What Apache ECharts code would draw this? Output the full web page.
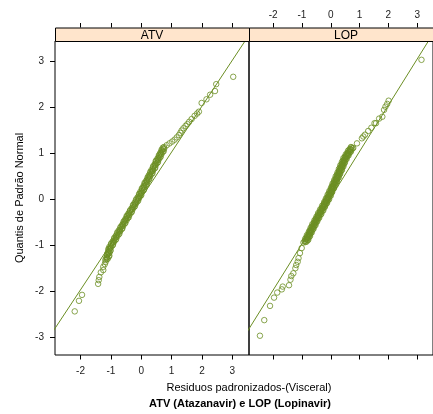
<!DOCTYPE html>
<html>
<head>
<meta charset="utf-8">
<script src="https://cdn.jsdelivr.net/npm/echarts@6/dist/echarts.min.js"></script>
<style>
html,body{margin:0;padding:0;background:#fff;}
#chart{width:433px;height:414px;}
</style>
</head>
<body>
<div id="chart"></div>
<script>
// Panel names
const panels = ['ATV', 'LOP'];
// Tick values
const xTicks = [-2, -1, 0, 1, 2, 3];
const yTicks = [-3, -2, -1, 0, 1, 2, 3];

// ATV: standardized residuals (x) vs normal quantiles (y)
const atvX = [-2.19,-2.05,-1.95,-1.42,-1.40,-1.38,-1.33,-1.25,-1.25,-1.20,-1.17,
-1.18,-1.10,-1.13,-1.05,-1.13,-1.05,-1.08,-1.01,-1.08,-1.00,-1.01,-0.93,-0.99,-0.90,-0.91,-0.83,-0.89,-0.79,-0.81,-0.72,-0.79,-0.69,-0.70,-0.62,-0.68,-0.59,-0.60,-0.52,-0.58,-0.48,-0.50,-0.41,-0.48,-0.38,-0.40,-0.31,-0.37,-0.28,-0.29,-0.21,-0.27,-0.17,-0.19,-0.10,-0.17,-0.07,-0.09,0.00,-0.07,0.02,0.01,0.09,0.02,0.11,0.10,0.18,0.11,0.21,0.19,0.27,0.21,0.30,0.28,0.37,0.30,0.39,0.38,0.46,0.39,0.48,0.47,0.55,0.48,0.58,0.56,0.64,0.58,0.67,0.65,0.74,0.67,0.76,0.75,
-1.13,-1.15,-1.07,-1.12,-1.08,-1.10,-1.02,-1.07,-1.03,-1.05,-0.95,-0.99,-0.93,-0.94,-0.85,-0.88,-0.83,-0.84,-0.75,-0.78,-0.72,-0.74,-0.64,-0.68,-0.62,-0.63,-0.54,-0.57,-0.52,-0.53,-0.44,-0.47,-0.41,-0.43,-0.33,-0.37,-0.31,-0.32,-0.23,-0.26,-0.21,-0.22,-0.13,-0.16,-0.10,-0.12,-0.03,-0.06,-0.01,-0.03,0.07,0.03,0.08,0.07,0.16,0.12,0.18,0.16,0.25,0.22,0.27,0.25,0.34,0.31,0.36,0.34,0.44,0.40,0.45,0.44,0.53,0.49,0.55,0.53,0.62,0.59,0.64,0.62,0.71,0.68,0.73,0.71,
0.84,0.93,1.02,1.10,1.17,1.24,1.29,1.33,1.39,1.46,1.52,1.58,1.66,1.76,1.84,1.90,1.99,2.15,2.27,2.43,2.47,3.03];
const atvY = [-2.44,-2.21,-2.08,-1.84,-1.76,-1.69,-1.59,-1.54,-1.47,-1.41,-1.36,
-1.32,-1.29,-1.26,-1.23,-1.20,-1.17,-1.14,-1.11,-1.08,-1.05,-1.02,-0.99,-0.96,-0.93,-0.90,-0.87,-0.84,-0.81,-0.78,-0.75,-0.72,-0.69,-0.66,-0.63,-0.60,-0.57,-0.54,-0.51,-0.48,-0.45,-0.42,-0.39,-0.36,-0.33,-0.30,-0.27,-0.24,-0.21,-0.18,-0.15,-0.12,-0.09,-0.06,-0.03,0.00,0.03,0.06,0.09,0.12,0.15,0.18,0.21,0.24,0.27,0.30,0.33,0.36,0.39,0.42,0.45,0.48,0.51,0.54,0.57,0.60,0.63,0.66,0.69,0.72,0.75,0.78,0.81,0.84,0.87,0.90,0.93,0.96,0.99,1.02,1.05,1.08,1.11,1.14,
-1.305,-1.275,-1.245,-1.215,-1.185,-1.155,-1.125,-1.095,-1.065,-1.035,-1.005,-0.975,-0.945,-0.915,-0.885,-0.855,-0.825,-0.795,-0.765,-0.735,-0.705,-0.675,-0.645,-0.615,-0.585,-0.555,-0.525,-0.495,-0.465,-0.435,-0.405,-0.375,-0.345,-0.315,-0.285,-0.255,-0.225,-0.195,-0.165,-0.135,-0.105,-0.075,-0.045,-0.015,0.015,0.045,0.075,0.105,0.135,0.165,0.195,0.225,0.255,0.285,0.315,0.345,0.375,0.405,0.435,0.465,0.495,0.525,0.555,0.585,0.615,0.645,0.675,0.705,0.735,0.765,0.795,0.825,0.855,0.885,0.915,0.945,0.975,1.005,1.035,1.065,1.095,1.125,
1.18,1.22,1.26,1.30,1.35,1.40,1.45,1.50,1.55,1.60,1.64,1.69,1.75,1.82,1.87,1.91,2.10,2.18,2.28,2.36,2.51,2.67];

// LOP: standardized residuals (x) vs normal quantiles (y)
const lopX = [-2.46,-2.31,-2.11,-1.97,-1.86,-1.70,-1.67,-1.45,-1.40,-1.37,-1.30,-1.23,-1.20,-1.15,-1.12,-1.07,-1.01,
-0.95,-0.84,-0.88,-0.78,-0.89,-0.78,-0.82,-0.72,-0.83,-0.72,-0.75,-0.66,-0.76,-0.66,-0.69,-0.60,-0.70,-0.59,-0.63,-0.53,-0.64,-0.53,-0.56,-0.47,-0.57,-0.46,-0.50,-0.40,-0.50,-0.40,-0.43,-0.33,-0.44,-0.33,-0.36,-0.26,-0.37,-0.26,-0.29,-0.20,-0.30,-0.19,-0.23,-0.13,-0.23,-0.12,-0.16,-0.06,-0.17,-0.06,-0.10,0.00,-0.11,0.00,-0.04,0.05,-0.05,0.05,0.02,0.11,0.01,0.11,0.07,0.17,0.06,0.17,0.13,0.22,0.12,0.22,0.19,0.28,0.17,0.28,0.24,0.33,0.23,0.33,0.29,0.39,0.28,0.38,0.35,0.44,0.33,0.44,0.40,0.49,0.39,0.49,0.45,0.55,0.44,0.55,0.52,0.62,0.52,0.63,0.60,0.70,0.60,0.71,0.68,0.78,0.70,
-0.88,-0.91,-0.81,-0.85,-0.82,-0.85,-0.75,-0.78,-0.76,-0.78,-0.69,-0.72,-0.70,-0.72,-0.62,-0.66,-0.63,-0.66,-0.56,-0.59,-0.57,-0.59,-0.50,-0.53,-0.50,-0.53,-0.43,-0.46,-0.44,-0.46,-0.36,-0.39,-0.37,-0.39,-0.29,-0.33,-0.30,-0.32,-0.23,-0.26,-0.23,-0.25,-0.16,-0.19,-0.16,-0.19,-0.09,-0.12,-0.10,-0.12,-0.03,-0.06,-0.04,-0.07,0.03,0.00,0.02,-0.01,0.08,0.05,0.07,0.05,0.14,0.11,0.13,0.10,0.20,0.17,0.19,0.16,0.25,0.22,0.24,0.21,0.31,0.28,0.29,0.27,0.36,0.33,0.35,0.32,0.41,0.39,0.40,0.37,0.47,0.44,0.45,0.43,0.52,0.49,0.51,0.49,0.59,0.57,0.59,0.57,0.67,0.65,0.67,0.65,0.75,0.72,
0.91,1.08,1.13,1.19,1.30,1.41,1.52,1.57,1.68,1.79,1.85,1.90,1.96,2.01,3.15];
const lopY = [-2.97,-2.63,-2.32,-2.14,-2.03,-1.96,-1.90,-1.87,-1.75,-1.67,-1.61,-1.50,-1.43,-1.36,-1.28,-1.17,-1.06,
-0.94,-0.92,-0.90,-0.88,-0.86,-0.84,-0.82,-0.80,-0.78,-0.76,-0.74,-0.72,-0.70,-0.68,-0.66,-0.64,-0.62,-0.60,-0.58,-0.56,-0.54,-0.52,-0.50,-0.48,-0.46,-0.44,-0.42,-0.40,-0.38,-0.36,-0.34,-0.32,-0.30,-0.28,-0.26,-0.24,-0.22,-0.20,-0.18,-0.16,-0.14,-0.12,-0.10,-0.08,-0.06,-0.04,-0.02,0.00,0.02,0.04,0.06,0.08,0.10,0.12,0.14,0.16,0.18,0.20,0.22,0.24,0.26,0.28,0.30,0.32,0.34,0.36,0.38,0.40,0.42,0.44,0.46,0.48,0.50,0.52,0.54,0.56,0.58,0.60,0.62,0.64,0.66,0.68,0.70,0.72,0.74,0.76,0.78,0.80,0.82,0.84,0.86,0.88,0.90,0.92,0.94,0.96,0.98,1.00,1.02,1.04,1.06,1.08,1.10,1.12,1.14,
-0.93,-0.91,-0.89,-0.87,-0.85,-0.83,-0.81,-0.79,-0.77,-0.75,-0.73,-0.71,-0.69,-0.67,-0.65,-0.63,-0.61,-0.59,-0.57,-0.55,-0.53,-0.51,-0.49,-0.47,-0.45,-0.43,-0.41,-0.39,-0.37,-0.35,-0.33,-0.31,-0.29,-0.27,-0.25,-0.23,-0.21,-0.19,-0.17,-0.15,-0.13,-0.11,-0.09,-0.07,-0.05,-0.03,-0.01,0.01,0.03,0.05,0.07,0.09,0.11,0.13,0.15,0.17,0.19,0.21,0.23,0.25,0.27,0.29,0.31,0.33,0.35,0.37,0.39,0.41,0.43,0.45,0.47,0.49,0.51,0.53,0.55,0.57,0.59,0.61,0.63,0.65,0.67,0.69,0.71,0.73,0.75,0.77,0.79,0.81,0.83,0.85,0.87,0.89,0.91,0.93,0.95,0.97,0.99,1.01,1.03,1.05,1.07,1.09,1.11,1.13,
1.22,1.33,1.37,1.41,1.49,1.56,1.66,1.66,1.76,1.80,1.95,2.02,2.08,2.15,3.04];

// Reference lines (endpoints, clipped by panel)
const atvLineX = [-3.0, 3.6];
const atvLineY = [-2.97, 3.63];
const lopLineX = [-3.0, 3.6];
const lopLineY = [-2.98, 3.66];

const xMin = -2.84, xMax = 3.55, yMin = -3.39, yMax = 3.45;
const green = '#6b8e23';
const font = 'Liberation Sans, Arial, sans-serif';

const zip = (a, b) => a.map((v, i) => [v, b[i]]);

const gridTop = 41, gridH = 314, gridW = 194, stripH = 13.5;
const lefts = [55, 249];

function xAx(gi, pos, labels) {
  return {
    type: 'value', gridIndex: gi, min: xMin, max: xMax, position: pos,
    offset: pos === 'top' ? stripH : 0,
    axisLine: {show: false, onZero: false},
    splitLine: {show: false},
    axisTick: {show: true, inside: false, length: 4.5, lineStyle: {color: '#000', width: 1}, customValues: xTicks},
    axisLabel: {show: labels, customValues: xTicks, margin: pos === 'top' ? 7 : 11, color: '#222', fontSize: 10, fontFamily: font,
      formatter: v => String(v)}
  };
}

function yAx(gi, pos, labels) {
  return {
    type: 'value', gridIndex: gi, min: yMin, max: yMax, position: pos,
    axisLine: {show: false, onZero: false}, splitLine: {show: false},
    axisTick: {show: true, length: 5, lineStyle: {color: '#000'}, customValues: yTicks},
    axisLabel: {show: labels, customValues: yTicks, margin: 11, color: '#222', fontSize: 10, fontFamily: font}
  };
}

const yA0 = yAx(0, 'left', true);
yA0.name = 'Quantis de Padrão Normal';
yA0.nameLocation = 'middle';
yA0.nameGap = 30;
yA0.nameRotate = 90;
yA0.nameTextStyle = {fontSize: 11, color: '#000', fontFamily: font};

const option = {
  animation: false,
  backgroundColor: '#fff',
  grid: lefts.map(l => ({left: l, top: gridTop, width: gridW, height: gridH, show: true, borderColor: '#000', borderWidth: 1, backgroundColor: 'transparent'})),
  xAxis: [xAx(0, 'bottom', true), xAx(0, 'top', false), xAx(1, 'bottom', false), xAx(1, 'top', true)],
  yAxis: [yA0, yAx(1, 'right', false)],
  graphic: [
    ...lefts.map((l, i) => ({type: 'group', children: [
      {type: 'rect', shape: {x: l + 0.5, y: gridTop - stripH + 0.5, width: gridW, height: stripH},
       style: {fill: '#ffe5cc', stroke: '#000', lineWidth: 1}, z: 10},
      {type: 'text', x: l + gridW / 2, y: gridTop - stripH / 2 + 1.5,
       style: {text: panels[i], fill: '#000', font: '12px ' + font, textAlign: 'center', textVerticalAlign: 'middle'}, z: 11}
    ]})),
    {type: 'text', x: 249, y: 388, style: {text: 'Residuos padronizados-(Visceral)', fill: '#000', font: '11px ' + font, textAlign: 'center', textVerticalAlign: 'middle'}},
    {type: 'text', x: 240, y: 404, style: {text: 'ATV (Atazanavir) e LOP (Lopinavir)', fill: '#000', font: 'bold 11px ' + font, textAlign: 'center', textVerticalAlign: 'middle'}}
  ],
  series: [
    {type: 'line', xAxisIndex: 0, yAxisIndex: 0, data: zip(atvLineX, atvLineY), showSymbol: false, clip: true,
     lineStyle: {color: green, width: 1}, silent: true},
    {type: 'scatter', xAxisIndex: 0, yAxisIndex: 0, data: zip(atvX, atvY), symbol: 'circle', symbolSize: 5.5,
     itemStyle: {color: 'rgba(0,0,0,0)', borderColor: green, borderWidth: 1}},
    {type: 'line', xAxisIndex: 3, yAxisIndex: 1, data: zip(lopLineX, lopLineY), showSymbol: false, clip: true,
     lineStyle: {color: green, width: 1}, silent: true},
    {type: 'scatter', xAxisIndex: 3, yAxisIndex: 1, data: zip(lopX, lopY), symbol: 'circle', symbolSize: 5.5,
     itemStyle: {color: 'rgba(0,0,0,0)', borderColor: green, borderWidth: 1}}
  ]
};

const chart = echarts.init(document.getElementById('chart'), null, {renderer: 'canvas'});
chart.setOption(option);
</script>
</body>
</html>
